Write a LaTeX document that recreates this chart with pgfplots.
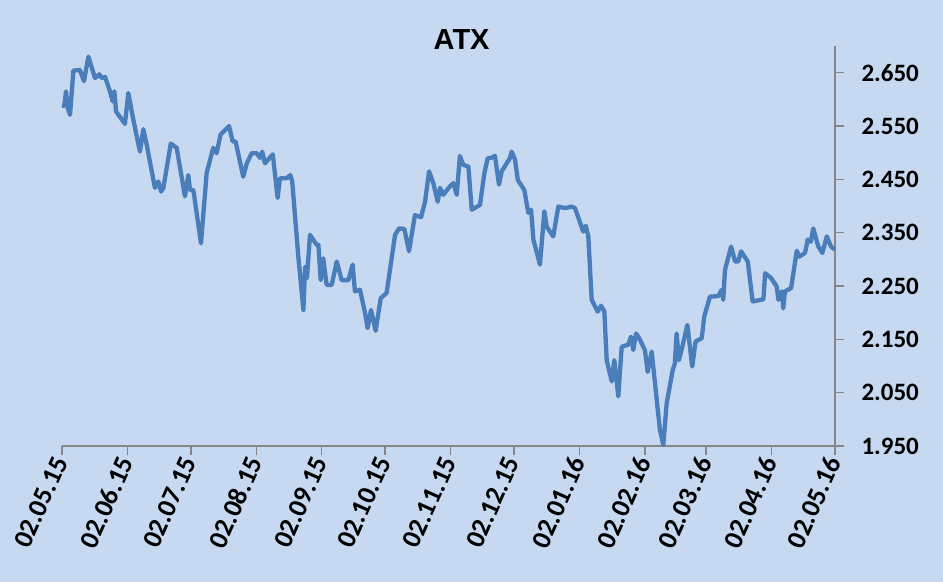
\documentclass[border=0pt]{standalone}
\usepackage{fontspec}
\setmainfont{Carlito}
\newfontfamily\titlefont{Liberation Sans}
\usepackage{pgfplots}
\pgfplotsset{compat=1.18}

\definecolor{chartbg}{RGB}{198,217,241}
\definecolor{atxline}{RGB}{74,126,187}
\definecolor{axisgray}{RGB}{134,134,134}

\begin{document}
\begin{tikzpicture}
% page = 943 x 582 (1pt per pixel), axis box lower left at origin
\fill[chartbg] (-62pt,-136pt) rectangle (881pt,446pt);
\useasboundingbox (-62pt,-136pt) rectangle (881pt,446pt);

\begin{axis}[
  scale only axis,
  width=773pt, height=400pt,
  xmin=0, xmax=366,
  ymin=1.95, ymax=2.7,
  axis x line*=bottom,
  axis y line*=right,
  axis line style={-, axisgray, line width=1.6pt},
  tick style={axisgray, line width=1.4pt},
  tick align=outside,
  major tick length=9pt,
  xtick={0,31,61,92,123,153,184,214,245,276,305,336,366},
  xticklabels={02.05.15,02.06.15,02.07.15,02.08.15,02.09.15,02.10.15,
    02.11.15,02.12.15,02.01.16,02.02.16,02.03.16,02.04.16,02.05.16},
  ytick={1.95,2.05,2.15,2.25,2.35,2.45,2.55,2.65},
  yticklabels={1.950,2.050,2.150,2.250,2.350,2.450,2.550,2.650},
  /pgf/number format/assume math mode=true,
  x tick label style={rotate=66, anchor=east,
    font=\bfseries\fontsize{27}{27}\selectfont},
  y tick label style={anchor=west, xshift=14pt,
    font=\bfseries\fontsize{25}{25}\selectfont},
  title={ATX},
  title style={at={(0.517,1)}, anchor=center,
    font=\titlefont\bfseries\fontsize{29}{29}\selectfont},
]

% ATX index, x = days since 02.05.15
\addplot[atxline, line width=4.3pt, line join=round, no markers] table {
  d     v
  0     2.588
  1.1   2.588
  1.9   2.615
  2.7   2.584
  3.8   2.571
  5.4   2.654
  8.5   2.655
  10.4  2.634
  12.5  2.680
  15.6  2.640
  17.7  2.647
  18.8  2.640
  20.4  2.642
  22.7  2.615
  24.0  2.596
  24.8  2.615
  25.6  2.577
  29.8  2.554
  31.4  2.612
  33.3  2.571
  36.9  2.502
  38.5  2.544
  40.1  2.515
  44.0  2.434
  45.6  2.446
  46.9  2.427
  48.0  2.434
  51.5  2.517
  54.3  2.509
  58.2  2.418
  59.8  2.458
  60.6  2.430
  62.2  2.430
  65.8  2.330
  68.5  2.462
  71.6  2.509
  73.2  2.499
  75.1  2.534
  79.1  2.550
  80.8  2.521
  82.2  2.521
  85.8  2.455
  87.5  2.480
  89.8  2.499
  92.2  2.499
  93.8  2.490
  94.8  2.502
  96.1  2.480
  99.8  2.497
  102.1 2.415
  103.2 2.452
  106.4 2.452
  108.1 2.458
  109.0 2.446
  111.9 2.305
  114.3 2.205
  115.1 2.286
  116.0 2.265
  117.4 2.346
  120.6 2.327
  121.4 2.327
  122.5 2.261
  123.7 2.302
  125.3 2.252
  127.7 2.252
  130.1 2.296
  132.4 2.261
  135.6 2.261
  137.6 2.290
  138.7 2.240
  141.1 2.243
  143.5 2.199
  144.7 2.171
  146.3 2.205
  148.5 2.166
  150.9 2.227
  153.7 2.237
  157.7 2.346
  159.6 2.358
  162.1 2.357
  164.3 2.315
  167.1 2.383
  170.0 2.379
  171.9 2.408
  173.8 2.465
  175.8 2.443
  177.9 2.408
  179.0 2.434
  180.5 2.421
  183.7 2.437
  185.3 2.443
  186.9 2.421
  188.4 2.494
  190.0 2.477
  192.4 2.474
  194.0 2.393
  197.9 2.402
  200.0 2.462
  201.6 2.490
  203.1 2.490
  205.0 2.494
  206.9 2.440
  208.2 2.465
  212.1 2.490
  212.9 2.502
  214.5 2.487
  215.8 2.449
  218.9 2.430
  220.8 2.387
  222.1 2.393
  223.2 2.337
  226.3 2.290
  228.4 2.390
  229.5 2.361
  232.6 2.343
  235.0 2.399
  238.2 2.396
  241.3 2.399
  242.9 2.396
  246.8 2.352
  248.0 2.363
  249.2 2.343
  250.8 2.224
  253.6 2.202
  255.2 2.213
  256.8 2.202
  257.9 2.111
  260.3 2.071
  261.5 2.111
  263.4 2.043
  265.0 2.136
  268.1 2.140
  269.4 2.155
  270.5 2.130
  271.8 2.161
  272.9 2.155
  276.0 2.130
  277.3 2.089
  279.2 2.127
  283.1 1.980
  284.7 1.952
  286.3 2.030
  289.2 2.093
  290.2 2.105
  291.0 2.161
  292.1 2.111
  293.7 2.136
  296.1 2.177
  298.4 2.099
  300.0 2.146
  302.9 2.152
  304.1 2.193
  306.8 2.230
  310.7 2.231
  312.4 2.243
  313.1 2.224
  313.9 2.280
  316.8 2.324
  318.7 2.296
  320.2 2.296
  321.5 2.315
  324.7 2.296
  327.0 2.221
  332.1 2.225
  332.9 2.274
  335.7 2.265
  338.4 2.249
  339.2 2.224
  340.8 2.240
  341.5 2.208
  342.3 2.240
  345.2 2.246
  347.9 2.316
  349.1 2.305
  351.8 2.312
  353.1 2.337
  354.6 2.333
  355.7 2.358
  358.1 2.324
  360.0 2.312
  362.1 2.343
  364.1 2.324
  366.0 2.318
};

\end{axis}
\end{tikzpicture}
\end{document}
